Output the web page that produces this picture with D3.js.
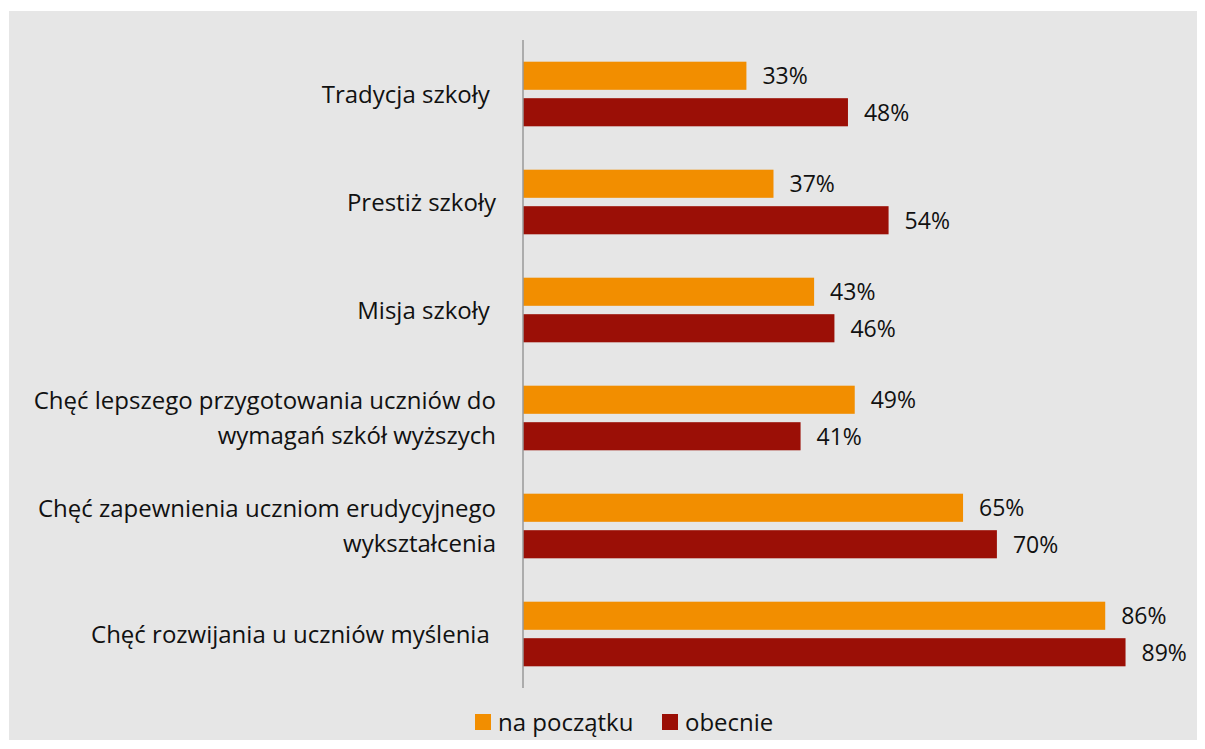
<!DOCTYPE html>
<html>
<head>
<meta charset="utf-8">
<script src="https://cdn.jsdelivr.net/npm/d3@7"></script>
<style>
  body { margin: 0; background: #fff; }
  text { font-family: "Open Sans", sans-serif; fill: #111; }
</style>
</head>
<body>
<div id="chart"></div>
<script>
// data
const categories = [
  ['Tradycja szkoły '],
  ['Prestiż szkoły'],
  ['Misja szkoły '],
  ['Chęć lepszego przygotowania uczniów do', 'wymagań szkół wyższych'],
  ['Chęć zapewnienia uczniom erudycyjnego', 'wykształcenia'],
  ['Chęć rozwijania u uczniów myślenia ']
];
const series = ['na początku', 'obecnie'];
const atStart = [33, 37, 43, 49, 65, 86];
const now = [48, 54, 46, 41, 70, 89];
const colors = ['#f28e00', '#9b0f06'];

const W = 1205, H = 749, fs = 24, fsVal = 23;
const svg = d3.select('#chart').append('svg').attr('width', W).attr('height', H);
svg.append('rect').attr('x', 9).attr('y', 11).attr('width', 1188).attr('height', 729)
  .attr('fill', '#e6e6e6');

const x0 = 523;
const x = d3.scaleLinear().domain([0, 100]).range([x0, x0 + 677]);
const y = d3.scaleBand().domain(d3.range(categories.length)).range([40, 688]);
const inner = d3.scaleBand().domain([0, 1]).range([0, 64.6]).paddingInner(0.23);

const rows = categories.map((c, i) => ({ i: i, label: c, vals: [atStart[i], now[i]] }));

const g = svg.selectAll('g.cat').data(rows).enter().append('g').attr('class', 'cat')
  .attr('transform', d => 'translate(0,' + (y(d.i) + y.bandwidth() / 2 - 32.3) + ')');

g.selectAll('rect.bar').data(d => d.vals).enter().append('rect')
  .attr('class', 'bar')
  .attr('x', x(0))
  .attr('y', (v, j) => inner(j))
  .attr('width', v => x(v) - x(0))
  .attr('height', inner.bandwidth())
  .attr('fill', (v, j) => colors[j]);

g.selectAll('text.val').data(d => d.vals).enter().append('text')
  .attr('class', 'val')
  .attr('x', v => x(v) + 16)
  .attr('y', (v, j) => inner(j) + inner.bandwidth() / 2)
  .attr('dy', '0.37em')
  .attr('font-size', fsVal)
  .text(v => v + '%');

// category labels
svg.selectAll('text.cat').data(rows).enter().append('text')
  .attr('class', 'cat')
  .attr('text-anchor', 'end')
  .attr('font-size', fs)
  .style('white-space', 'pre')
  .each(function(d) {
    const t = d3.select(this);
    const n = d.label.length, lh = 35;
    const cy = y(d.i) + y.bandwidth() / 2 - (n - 1) * lh / 2;
    d.label.forEach((s, k) => {
      t.append('tspan').attr('x', 496).attr('y', cy + k * lh).attr('dy', '0.36em').text(s);
    });
  });

// axis line
svg.append('line').attr('x1', x0).attr('x2', x0).attr('y1', 40).attr('y2', 688)
  .attr('stroke', '#999').attr('stroke-width', 1.5);

// legend
const legX = [475, 662];
const leg = svg.selectAll('g.leg').data(series).enter().append('g').attr('class', 'leg')
  .attr('transform', (s, i) => 'translate(' + legX[i] + ',714)');
leg.append('rect').attr('width', 16).attr('height', 16).attr('fill', (s, i) => colors[i]);
leg.append('text').attr('x', 23).attr('y', 8).attr('dy', '0.37em').attr('font-size', fs).text(s => s);
</script>
</body>
</html>
